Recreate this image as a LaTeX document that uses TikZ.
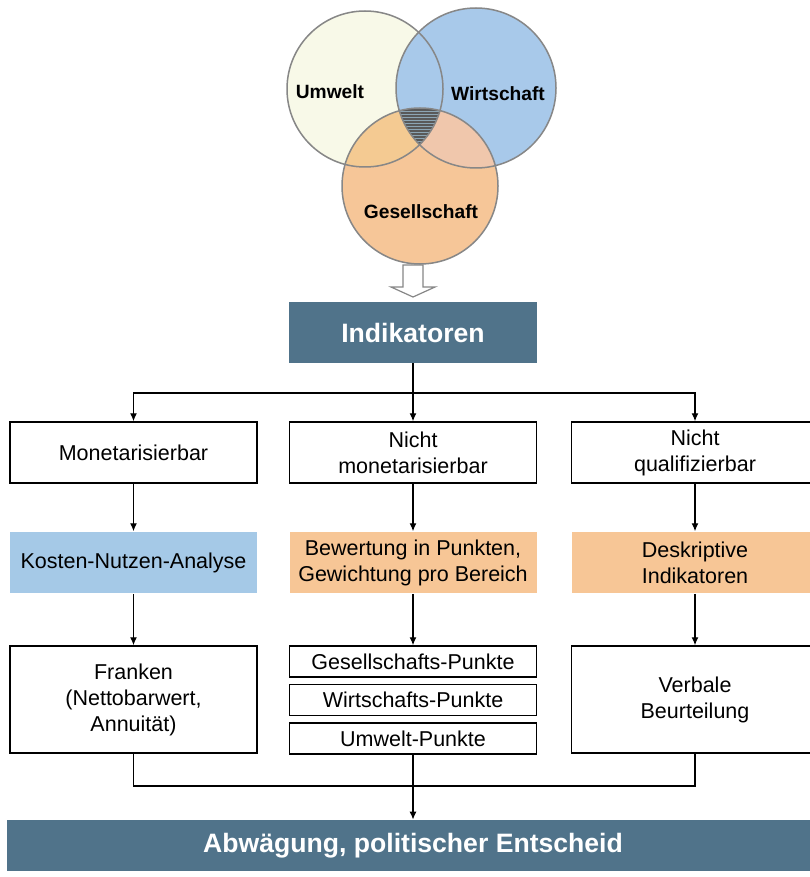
\documentclass[tikz,border=0pt]{standalone}
\usepackage{fontspec}
\setmainfont{Liberation Sans}
\usetikzlibrary{arrows.meta}

\definecolor{darkbox}{RGB}{80,115,138}
\definecolor{kblue}{RGB}{165,201,231}
\definecolor{korange}{RGB}{247,198,150}
\definecolor{ucream}{RGB}{248,249,232}
\definecolor{wblue}{RGB}{168,201,234}
\definecolor{gorange}{RGB}{246,198,152}
\definecolor{ugorange}{RGB}{244,202,146}
\definecolor{wgorange}{RGB}{240,199,172}
\definecolor{tripfill}{RGB}{140,165,180}
\definecolor{ringgray}{RGB}{135,135,135}

\tikzset{
  box/.style={draw=black, line width=0.75pt, minimum width=123.5pt, minimum height=30.5pt,
    align=center, inner sep=0pt, font=\fontsize{10.75}{13}\selectfont},
  bluebox/.style={box, draw=none, fill=kblue},
  orangebox/.style={box, draw=none, fill=korange},
  punktbox/.style={box, minimum height=15.5pt},
  darkbox/.style={fill=darkbox, text=white, inner sep=0pt, minimum height=30.5pt,
    font=\bfseries\fontsize{13.3}{15}\selectfont},
  venntext/.style={font=\bfseries\fontsize{9.6}{11}\selectfont},
  arr/.style={-{Latex[length=4pt,width=3.5pt]}, line width=0.6pt},
  lin/.style={line width=0.6pt},
}

\begin{document}
\begin{tikzpicture}[x=0.5pt,y=0.5pt]
			%%%%% START %%%%%
			\fill[white] (0,0) rectangle (809,-877);
			\useasboundingbox (0,0) rectangle (809,-877);
			
			% venn
			\fill[ucream] (365,-89) circle (78);
			\fill[wblue] (476,-88) circle (80);
			\fill[gorange] (420,-186) circle (78);
			\begin{scope}
				\clip (365,-89) circle (78);
				\fill[ugorange] (420,-186) circle (78);
			\end{scope}
			\begin{scope}
				\clip (476,-88) circle (80);
				\fill[wgorange] (420,-186) circle (78);
			\end{scope}
			\begin{scope}
				\clip (365,-89) circle (78);
				\clip (476,-88) circle (80);
				\clip (420,-186) circle (78);
				\fill[tripfill] (380,-100) rectangle (460,-160);
				\foreach \yy in {104,107,...,150}
					\draw[line width=0.6pt, black!65] (380,-\yy) -- (460,-\yy);
			\end{scope}
			\draw[ringgray, line width=0.75pt] (365,-89) circle (78);
			\draw[ringgray, line width=0.75pt] (476,-88) circle (80);
			\draw[ringgray, line width=0.75pt] (420,-186) circle (78);
			
			\node[venntext] (lblU) at (330,-92) {Umwelt};
			\node[venntext] (lblW) at (498,-94) {Wirtschaft};
			\node[venntext] (lblG) at (421,-212) {Gesellschaft};
			
			% hollow arrow
			\draw[ringgray, fill=white, line width=0.6pt] (403,-265) -- (423,-265) -- (423,-287)
				-- (435,-287) -- (413,-297) -- (391,-287) -- (403,-287) -- cycle;
			
			% boxes
			\node[darkbox, minimum width=124pt] (indik) at (413,-332.5) {Indikatoren};
			
			\node[box] (mon) at (133.5,-452.5) {Monetarisierbar};
			\node[box] (nmon) at (413,-452.5) {Nicht\\monetarisierbar};
			\node[box] (nqual) at (695,-452.5) {Nicht\\qualifizierbar};
			
			\node[bluebox] (kna) at (133.5,-562.5) {Kosten-Nutzen-Analyse};
			\node[orangebox] (bew) at (413,-562.5) {Bewertung in Punkten,\\Gewichtung pro Bereich};
			\node[orangebox] (desk) at (695,-562.5) {Deskriptive\\Indikatoren};
			
			\node[box, minimum height=53.5pt] (frk) at (133.5,-699.5) {Franken\\(Nettobarwert,\\Annuität)};
			\node[punktbox] (gp) at (413,-661.5) {Gesellschafts-Punkte};
			\node[punktbox] (wp) at (413,-700) {Wirtschafts-Punkte};
			\node[punktbox] (up) at (413,-738.5) {Umwelt-Punkte};
			\node[box, minimum height=53.5pt] (verb) at (695,-699.5) {Verbale\\Beurteilung};
			
			\node[darkbox, minimum width=406pt, minimum height=25.5pt] (abw) at (413,-845.5) {Abwägung, politischer Entscheid};
			
			% connectors
			\coordinate (split) at (413,-393);
			\coordinate (join) at (413,-786);
			\draw[arr] (indik) -- (nmon);
			\draw[arr] (split) -| (mon.north);
			\draw[arr] (split) -| (nqual.north);
			
			\draw[arr] (mon) -- (kna);
			\draw[arr] (nmon) -- (bew);
			\draw[arr] (nqual) -- (desk);
			
			\draw[arr] (kna) -- (frk);
			\draw[arr] (bew) -- (gp);
			\draw[arr] (desk) -- (verb);
			
			\draw[lin] (frk.south) |- (join);
			\draw[lin] (verb.south) |- (join);
			\draw[arr] (up) -- (abw);
			%%%%% END %%%%%
\end{tikzpicture}
\end{document}
